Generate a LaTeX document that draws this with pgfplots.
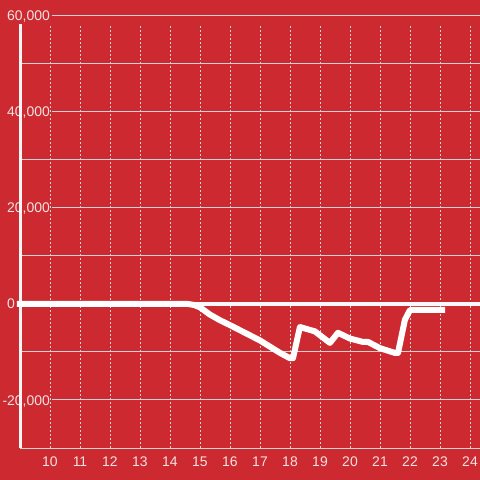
\documentclass[border=0pt]{standalone}
\usepackage{pgfplots}
\pgfplotsset{compat=1.18}
\usepackage{fontspec}
\setmainfont{Liberation Sans}
\definecolor{bg}{HTML}{CC2A30}
\definecolor{gridc}{HTML}{DCD2D2}
\definecolor{labc}{HTML}{F4E2E2}

\begin{document}
\begin{tikzpicture}
\fill[bg] (0,0) rectangle (480bp,480bp);
\begin{axis}[
  at={(20bp,32bp)}, anchor=south west,
  scale only axis, width=460bp, height=432bp,
  xmin=9, xmax=24.3333, ymin=-30000, ymax=60000,
  axis line style={draw=none},
  tick style={draw=none},
  scaled y ticks=false,
  /pgf/number format/assume math mode=true,
  xtick={10,...,24},
  ytick={-20000,0,20000,40000,60000},
  yticklabels={{\llap{-}20,000},{0},{20,000},{40,000},{60,000}},
  minor ytick={-30000,-10000,10000,30000,50000},
  ymajorgrids, yminorgrids,
  major grid style={gridc, line width=1bp},
  minor grid style={gridc, line width=1bp},
  ticklabel style={font=\fontsize{14}{16}\selectfont, text=labc},
  xticklabel style={anchor=base, inner sep=0pt, yshift=-18bp},
  yticklabel style={anchor=base west, inner xsep=2bp, inner ysep=1bp,
    xshift=-15bp, yshift=-5bp, fill=bg},
  clip=false,
]
\pgfplotsinvokeforeach{10,...,24}{
  \draw[gridc, line width=1bp, dash pattern=on 2bp off 2bp]
    (axis cs:#1,-30000) -- (axis cs:#1,58333);
}
\draw[white!93!gray, line width=3bp] (axis cs:9,-30000) -- (axis cs:9,58333);
\draw[white!95!gray, line width=4bp] (axis cs:8.9,0) -- (axis cs:24.3333,0);
\addplot[white, line width=6bp, line join=round, mark=none] coordinates {
  (8.9,0) (14.6,0) (14.8,-200) (15.0,-700) (15.33,-2200) (15.67,-3400)
  (16.0,-4400) (16.5,-6000) (17.0,-7600) (17.67,-10200) (18.0,-11300)
  (18.1,-11300) (18.33,-4800) (18.83,-5700) (19.33,-8100) (19.6,-6000)
  (20.0,-7200) (20.43,-7900) (20.6,-7900) (21.0,-9200) (21.5,-10200)
  (21.6,-10200) (21.83,-3300) (22.0,-1250) (23.17,-1250)
};
\end{axis}
\pgfresetboundingbox
\useasboundingbox (0,0) rectangle (480bp,480bp);
\end{tikzpicture}
\end{document}
